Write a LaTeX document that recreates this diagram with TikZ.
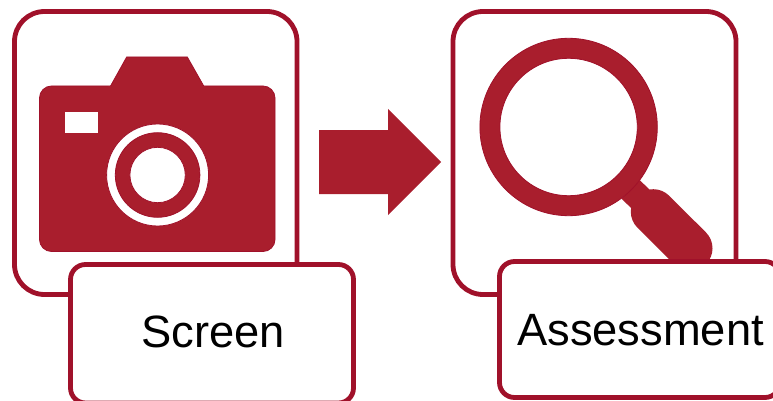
\documentclass[tikz,border=0pt]{standalone}
\usepackage{fontspec}
\setmainfont{Liberation Sans}
\definecolor{cardinal}{HTML}{A91E2D}
\definecolor{cardinaldark}{HTML}{A0112A}
\tikzset{
  x=1pt,y=-1pt,
  bigbox/.style={draw=cardinaldark,line width=4.8pt,fill=white,rounded corners=30pt},
  labelbox/.style={draw=cardinaldark,line width=4.8pt,fill=white,rounded corners=15pt},
  icon/.style={fill=cardinal,draw=cardinaldark,line width=0.8pt},
  hole/.style={fill=white,draw=cardinaldark,line width=0.8pt},
  caption/.style={font=\fontsize{45.3pt}{50pt}\selectfont,text=black,anchor=base west,inner sep=0pt}
}
\begin{document}
\begin{tikzpicture}
\useasboundingbox (0,0) rectangle (773,401);
\clip (0,0) rectangle (773,401);
% frames
\draw[bigbox] (14.5,11.5) rectangle (297,294.5);
\draw[bigbox] (453,11.5) rectangle (736,294.5);
% camera
\draw[icon,rounded corners=12pt] (39.5,86) rectangle (275,251.5);
\draw[icon] (110,87) -- (126.7,57) -- (187.3,57) -- (204.3,87) -- cycle;
\fill[cardinal] (108,86.4) rectangle (206,92);
\draw[hole,draw=none] (65,112) rectangle (97.7,132.7);
\draw[hole] (157.6,175) circle[radius=51];
\draw[icon] (157.6,175) circle[radius=42.3];
\draw[hole] (157.6,175) circle[radius=27.7];
% arrow
\fill[cardinal] (319,130) -- (388,130) -- (388,109) -- (441,162) -- (388,215) -- (388,194) -- (319,194) -- cycle;
% magnifier
\draw[cardinal,line width=26pt] (630.8,189.5) -- (653.3,211.7);
\draw[cardinal,line width=45pt,line cap=round] (653.3,211.7) -- (690,248.3);
\draw[icon,even odd rule] (568.6,127) circle[radius=88.7] (568.6,127) circle[radius=68.7];
% label boxes
\draw[labelbox] (70.5,264.5) rectangle (353.5,403);
\draw[labelbox] (499.5,261.5) rectangle (780,397.5);
\node[caption] (screen) at (141,347) {Screen};
\node[caption] (assessment) at (517,345) {Assessment};
\end{tikzpicture}
\end{document}
